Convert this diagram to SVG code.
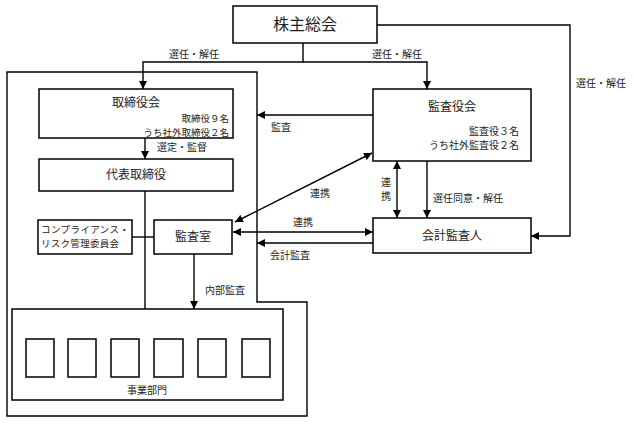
<svg xmlns="http://www.w3.org/2000/svg" width="634" height="423" viewBox="0 0 634 423">
<defs>
<marker id="ah" viewBox="0 0 10 10" refX="10" refY="5" markerWidth="8" markerHeight="8" markerUnits="userSpaceOnUse" orient="auto-start-reverse">
<path d="M0,0 L10,5 L0,10 Z" fill="#000"/>
</marker>
<style>
.box{fill:#fff;stroke:#000;stroke-width:1.5}
.ln{fill:none;stroke:#000;stroke-width:1.4}
.t{font-family:"Noto Sans CJK JP","Liberation Serif",serif;fill:#222}
.s{font-size:10px}
.xs{font-size:9.5px}
.m{font-size:12px}
.l{font-size:16px}
</style>
</defs>
<rect width="634" height="423" fill="#fff"/>
<g id="company-boundary">
<path class="ln" d="M7,72 H257 V302 H307 V416 H7 Z"/>
</g>
<g id="connectors">
<path class="ln" d="M303,43 V62 H143 V89" marker-end="url(#ah)"/>
<path class="ln" d="M303,62 H427 V89" marker-end="url(#ah)"/>
<path class="ln" d="M377,25 H570 V236 H531" marker-end="url(#ah)"/>
<path class="ln" d="M373,115 H257" marker-end="url(#ah)"/>
<path class="ln" d="M145,138 V159" marker-end="url(#ah)"/>
<path class="ln" d="M145,191 V321"/>
<path class="ln" d="M41,339 V321 H256 V339 M83,321 V339 M126,321 V339 M169,321 V339 M213,321 V339"/>
<path class="ln" d="M132,237 H154"/>
<path class="ln" d="M194,254 V309" marker-end="url(#ah)"/>
<path class="ln" d="M235,222 L372,153" marker-start="url(#ah)" marker-end="url(#ah)"/>
<path class="ln" d="M233,232 H373" marker-start="url(#ah)" marker-end="url(#ah)"/>
<path class="ln" d="M373,243 H257" marker-end="url(#ah)"/>
<path class="ln" d="M397,161 V218" marker-start="url(#ah)" marker-end="url(#ah)"/>
<path class="ln" d="M427,161 V218" marker-end="url(#ah)"/>
</g>
<g id="labels" class="t s">
<text x="194" y="58" text-anchor="middle">選任・解任</text>
<text x="397" y="58" text-anchor="middle">選任・解任</text>
<text x="601" y="87" text-anchor="middle">選任・解任</text>
<text x="271" y="131">監査</text>
<text x="157" y="151">選定・監督</text>
<text x="310" y="197">連携</text>
<text x="386" y="186" text-anchor="middle">連</text>
<text x="386" y="200" text-anchor="middle">携</text>
<text x="433" y="202">選任同意・解任</text>
<text x="293" y="226">連携</text>
<text x="270" y="259">会計監査</text>
<text x="205" y="294">内部監査</text>
</g>
<g id="shareholders">
<rect class="box" x="233" y="6" width="144" height="37"/>
<text class="t l" x="305" y="30" text-anchor="middle">株主総会</text>
</g>
<g id="board">
<rect class="box" x="39" y="89" width="194" height="49"/>
<text class="t m" x="136" y="107" text-anchor="middle">取締役会</text>
<text class="t xs" x="229" y="121.5" text-anchor="end">取締役９名</text>
<text class="t xs" x="229" y="135.5" text-anchor="end">うち社外取締役２名</text>
</g>
<g id="auditors">
<rect class="box" x="373" y="89" width="158" height="72"/>
<text class="t m" x="452" y="111" text-anchor="middle">監査役会</text>
<text class="t s" x="519" y="135" text-anchor="end">監査役３名</text>
<text class="t s" x="519" y="149" text-anchor="end">うち社外監査役２名</text>
</g>
<g id="representative">
<rect class="box" x="39" y="159" width="194" height="32"/>
<text class="t m" x="136" y="179" text-anchor="middle">代表取締役</text>
</g>
<g id="compliance">
<rect class="box" x="38" y="220" width="94" height="34"/>
<text class="t xs" x="41" y="233" textLength="88">コンプライアンス・</text>
<text class="t xs" x="41" y="247" textLength="78">リスク管理委員会</text>
</g>
<g id="audit-office">
<rect class="box" x="154" y="220" width="78" height="34"/>
<text class="t m" x="193" y="241" text-anchor="middle">監査室</text>
</g>
<g id="accounting-auditor">
<rect class="box" x="373" y="218" width="158" height="35"/>
<text class="t m" x="452" y="240" text-anchor="middle">会計監査人</text>
</g>
<g id="business-divisions">
<rect class="box" x="12" y="309" width="271" height="91"/>
<rect class="box" x="26" y="339" width="28" height="38"/>
<rect class="box" x="68" y="339" width="28" height="38"/>
<rect class="box" x="111" y="339" width="28" height="38"/>
<rect class="box" x="154" y="339" width="29" height="38"/>
<rect class="box" x="198" y="339" width="28" height="38"/>
<rect class="box" x="242" y="339" width="28" height="38"/>
<text class="t s" x="147" y="394" text-anchor="middle">事業部門</text>
</g>
</svg>
